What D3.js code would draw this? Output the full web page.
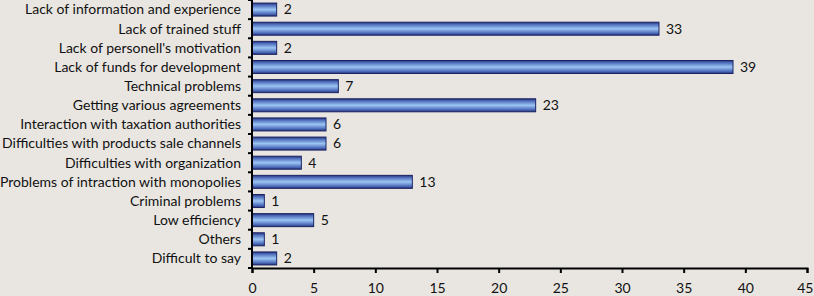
<!DOCTYPE html>
<html>
<head>
<meta charset="utf-8">
<script src="https://cdn.jsdelivr.net/npm/d3@7"></script>
<style>
  html, body { margin: 0; padding: 0; background: #e9e6e1; }
  svg { display: block; }
  text { font-family: Lato, "Open Sans", sans-serif; fill: #111; }
</style>
</head>
<body>
<svg id="chart" width="814" height="296"></svg>
<script>
const categories = [
  "Lack of information and experience",
  "Lack of trained stuff",
  "Lack of personell's motivation",
  "Lack of funds for development",
  "Technical problems",
  "Getting various agreements ",
  "Interaction with taxation authorities",
  "Difficulties with products sale channels",
  "Difficulties with organization",
  "Problems of intraction with monopolies",
  "Criminal problems",
  "Low efficiency",
  "Others",
  "Difficult to say"
];
const values = [2, 33, 2, 39, 7, 23, 6, 6, 4, 13, 1, 5, 1, 2];
const xTicks = [0, 5, 10, 15, 20, 25, 30, 35, 40, 45];

const svg = d3.select('#chart');
const margin = { left: 252, right: 7, top: 0, bottom: 28 };
const width = 814 - margin.left - margin.right;
const height = 296 - margin.top - margin.bottom;

const g = svg.append('g').attr('transform', `translate(${margin.left},${margin.top})`);

// bar gradient: dark edges, light centre
const grad = svg.append('defs').append('linearGradient')
  .attr('id', 'barGrad').attr('x1', 0).attr('y1', 0).attr('x2', 0).attr('y2', 1);
[[0, '#26306f'], [0.15, '#4a68b8'], [0.5, '#9cc6f4'], [0.85, '#4a68b8'], [1, '#26306f']]
  .forEach(([o, c]) => grad.append('stop').attr('offset', o).attr('stop-color', c));

const x = d3.scaleLinear().domain([0, 45]).range([0, width]);
const y = d3.scaleBand().domain(categories).range([0, height]).paddingInner(0.32).paddingOuter(0.16);

// Bars
g.selectAll('rect.bar')
  .data(values)
  .enter()
  .append('rect')
  .attr('class', 'bar')
  .attr('x', 0)
  .attr('y', (d, i) => y(categories[i]))
  .attr('width', d => x(d))
  .attr('height', y.bandwidth())
  .attr('fill', 'url(#barGrad)')
  .attr('stroke', '#1c2466')
  .attr('stroke-width', 1);

// Value labels
g.selectAll('text.val')
  .data(values)
  .enter()
  .append('text')
  .attr('class', 'val')
  .attr('x', d => x(d) + 7)
  .attr('y', (d, i) => y(categories[i]) + y.bandwidth() / 2)
  .attr('dy', '0.35em')
  .style('font-size', '14px')
  .text(d => d);

// Category labels
g.selectAll('text.cat')
  .data(categories)
  .enter()
  .append('text')
  .attr('class', 'cat')
  .attr('x', -11)
  .attr('y', d => y(d) + y.bandwidth() / 2)
  .attr('dy', '0.35em')
  .attr('text-anchor', 'end')
  .style('font-size', '14px')
  .text(d => d);

// Y axis line with ticks at band boundaries
g.append('line').attr('x1', 0).attr('x2', 0).attr('y1', 0).attr('y2', height)
  .attr('stroke', '#000').attr('stroke-width', 2);
g.selectAll('line.ytick')
  .data(d3.range(categories.length + 1))
  .enter()
  .append('line')
  .attr('x1', -4).attr('x2', 0)
  .attr('y1', i => i * height / categories.length)
  .attr('y2', i => i * height / categories.length)
  .attr('stroke', '#000').attr('stroke-width', 2);

// X axis
const xAxis = g.append('g')
  .attr('transform', `translate(0,${height})`)
  .call(d3.axisBottom(x).tickValues(xTicks).tickSize(5).tickPadding(10));
xAxis.select('.domain').attr('stroke', '#000').attr('stroke-width', 2);
xAxis.selectAll('.tick line').attr('stroke', '#000').attr('stroke-width', 2);
xAxis.selectAll('.tick text').style('font-size', '14px').style('font-family', 'Lato, sans-serif').attr('fill', '#111');
// keep the last label inside the window
xAxis.selectAll('.tick:last-of-type text').attr('text-anchor', 'end').attr('x', 6);
</script>
</body>
</html>
